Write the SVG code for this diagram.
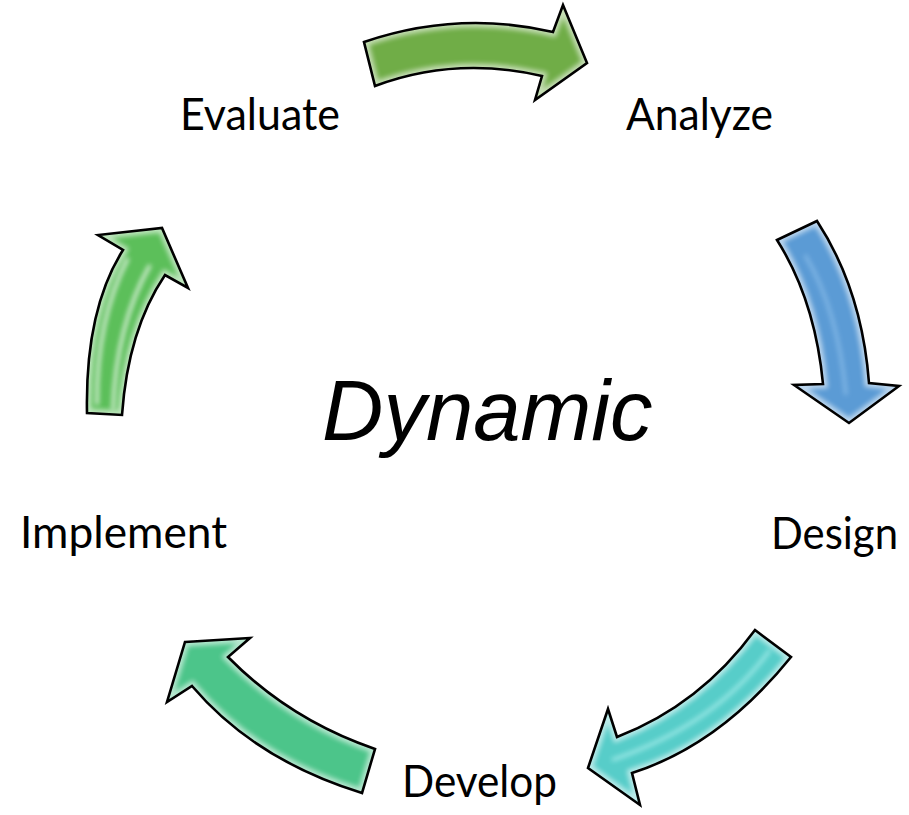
<svg xmlns="http://www.w3.org/2000/svg" xmlns:xlink="http://www.w3.org/1999/xlink" width="909" height="815" viewBox="0 0 909 815">
  <style>
    .label { font-family: Lato, "Open Sans", "Liberation Sans", sans-serif; font-size: 44px; fill: #000; }
    .title { font-family: "Liberation Sans", Arial, sans-serif; font-style: italic; font-size: 85px; fill: #000; }
    .outline { fill: none; stroke: #000; stroke-width: 2.6; stroke-linejoin: miter; }
    .glow { fill: none; stroke: #fff; stroke-width: 9; opacity: 0.6; }
  </style>
  <defs>
    <filter id="soft" x="-20%" y="-20%" width="140%" height="140%">
      <feGaussianBlur stdDeviation="2.6"/>
    </filter>
    <!-- curved block arrows, one per step of the cycle -->
    <path id="pTop" d="M364,42 Q458,10 553,32 L563,5 L587,63 L535,100 L542,76 Q455,56 375,86 Z"/>
    <path id="pRight" d="M777,240 L817,221 Q862,290 869,383 L899,386 L849,423 L794,385 L823,384 Q815,300 777,240 Z"/>
    <path id="pLowRight" d="M755,630 L791,657 Q720,745 632,773 L640,805 L588,768 L608,709 L617,737 Q700,705 755,630 Z"/>
    <path id="pLowLeft" d="M185,642 L250,638 L228,657 Q290,720 375,749 L362,793 Q255,760 192,686 L167,702 Z"/>
    <path id="pLeft" d="M87,413 Q85,310 123,250 L98,235 L162,228 L188,288 L165,275 Q128,330 122,415 Z"/>
    <clipPath id="cTop"><use xlink:href="#pTop"/></clipPath>
    <clipPath id="cRight"><use xlink:href="#pRight"/></clipPath>
    <clipPath id="cLowRight"><use xlink:href="#pLowRight"/></clipPath>
    <clipPath id="cLowLeft"><use xlink:href="#pLowLeft"/></clipPath>
    <clipPath id="cLeft"><use xlink:href="#pLeft"/></clipPath>
  </defs>

  <rect width="909" height="815" fill="#fff"/>

  <g id="connectors">
    <g id="arrow-evaluate-analyze">
      <use xlink:href="#pTop" fill="#70AD47"/>
      <g clip-path="url(#cTop)"><use xlink:href="#pTop" class="glow" filter="url(#soft)"/></g>
      <use xlink:href="#pTop" class="outline"/>
    </g>
    <g id="arrow-analyze-design">
      <use xlink:href="#pRight" fill="#5B9BD5"/>
      <g clip-path="url(#cRight)"><use xlink:href="#pRight" class="glow" filter="url(#soft)"/></g>
      <path d="M805,255 Q838,310 846,395" fill="none" stroke="#9cc9f0" stroke-width="3" opacity="0.7" filter="url(#soft)"/>
      <use xlink:href="#pRight" class="outline"/>
    </g>
    <g id="arrow-design-develop">
      <use xlink:href="#pLowRight" fill="#57CDC9"/>
      <g clip-path="url(#cLowRight)"><use xlink:href="#pLowRight" class="glow" filter="url(#soft)"/></g>
      <path d="M770,650 Q715,725 612,760" fill="none" stroke="#b8f4f2" stroke-width="3" opacity="0.8" filter="url(#soft)"/>
      <use xlink:href="#pLowRight" class="outline"/>
    </g>
    <g id="arrow-develop-implement">
      <use xlink:href="#pLowLeft" fill="#4CC58A"/>
      <g clip-path="url(#cLowLeft)"><use xlink:href="#pLowLeft" class="glow" filter="url(#soft)"/></g>
      <use xlink:href="#pLowLeft" class="outline"/>
    </g>
    <g id="arrow-implement-evaluate">
      <use xlink:href="#pLeft" fill="#5CBF5A"/>
      <g clip-path="url(#cLeft)"><use xlink:href="#pLeft" class="glow" filter="url(#soft)"/></g>
      <path d="M97,405 Q96,320 128,258" fill="none" stroke="#fff" stroke-width="3" opacity="0.9" filter="url(#soft)"/>
      <path d="M113,410 Q116,325 150,265" fill="none" stroke="#fff" stroke-width="3" opacity="0.9" filter="url(#soft)"/>
      <use xlink:href="#pLeft" class="outline"/>
    </g>
  </g>

  <g id="node-analyze"><text class="label" x="626" y="130" textLength="147" lengthAdjust="spacingAndGlyphs">Analyze</text></g>
  <g id="node-design"><text class="label" x="771" y="549" textLength="127" lengthAdjust="spacingAndGlyphs">Design</text></g>
  <g id="node-develop"><text class="label" x="402" y="797" textLength="155" lengthAdjust="spacingAndGlyphs">Develop</text></g>
  <g id="node-implement"><text class="label" x="20" y="548" textLength="207" lengthAdjust="spacingAndGlyphs">Implement</text></g>
  <g id="node-evaluate"><text class="label" x="180" y="130" textLength="160" lengthAdjust="spacingAndGlyphs">Evaluate</text></g>
  <g id="center"><text class="title" x="322" y="440">Dynamic</text></g>
</svg>
